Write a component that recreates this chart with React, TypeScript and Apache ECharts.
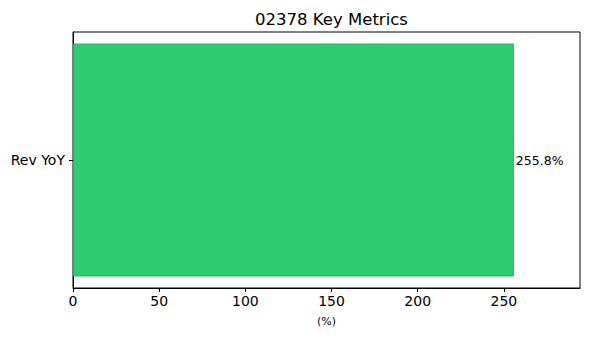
import React, { useEffect, useRef } from "react";
import * as echarts from "echarts";

const categories = ["Rev YoY"];
const values = [255.8];
const xTicks = [0, 50, 100, 150, 200, 250];
const titleText = "02378 Key Metrics";
const xName = "(%)";

export default function App() {
  const ref = useRef<HTMLDivElement>(null);
  useEffect(() => {
    if (!ref.current) return;
    const chart = echarts.init(ref.current, undefined, { renderer: "svg" });
    const font = "DejaVu Sans";
    const xMax = Math.max(...values) * 1.15;
    chart.setOption({
      animation: false,
      title: {
        text: titleText,
        left: 326.5,
        top: 6,
        textAlign: "center",
        textStyle: { fontFamily: font, fontSize: 16.5, fontWeight: "normal", color: "#000" },
      },
      grid: {
        left: 73,
        right: 10,
        top: 32,
        bottom: 52,
        show: true,
        borderColor: "#000",
        borderWidth: 1,
        backgroundColor: "transparent",
      },
      xAxis: {
        type: "value",
        min: 0,
        max: xMax,
        interval: 50,
        name: xName,
        nameLocation: "middle",
        nameGap: 28,
        nameTextStyle: { fontFamily: font, fontSize: 11, color: "#000" },
        splitLine: { show: false },
        axisLine: { show: true, lineStyle: { color: "#000", width: 1 } },
        axisTick: { show: true, length: 4, lineStyle: { color: "#000" }, customValues: xTicks },
        axisLabel: {
          fontFamily: font,
          fontSize: 14,
          color: "#000",
          margin: 6,
          customValues: xTicks,
        },
      },
      yAxis: {
        type: "category",
        data: categories,
        axisLine: { show: true, lineStyle: { color: "#000", width: 1 } },
        axisTick: { show: true, alignWithLabel: true, length: 4, lineStyle: { color: "#000" } },
        axisLabel: { fontFamily: font, fontSize: 14, color: "#000", margin: 8 },
      },
      series: [
        {
          type: "bar",
          data: values,
          barWidth: "91%",
          itemStyle: { color: "#2ecc71", borderColor: "#27ae60", borderWidth: 1 },
          label: {
            show: true,
            position: "right",
            distance: 2,
            formatter: (p: any) => `${p.value.toFixed(1)}%`,
            fontFamily: font,
            fontSize: 12.5,
            color: "#000",
          },
        },
      ],
    });
    return () => chart.dispose();
  }, []);
  return <div ref={ref} style={{ width: 590, height: 340, position: "absolute", left: 0, top: 0 }} />;
}
